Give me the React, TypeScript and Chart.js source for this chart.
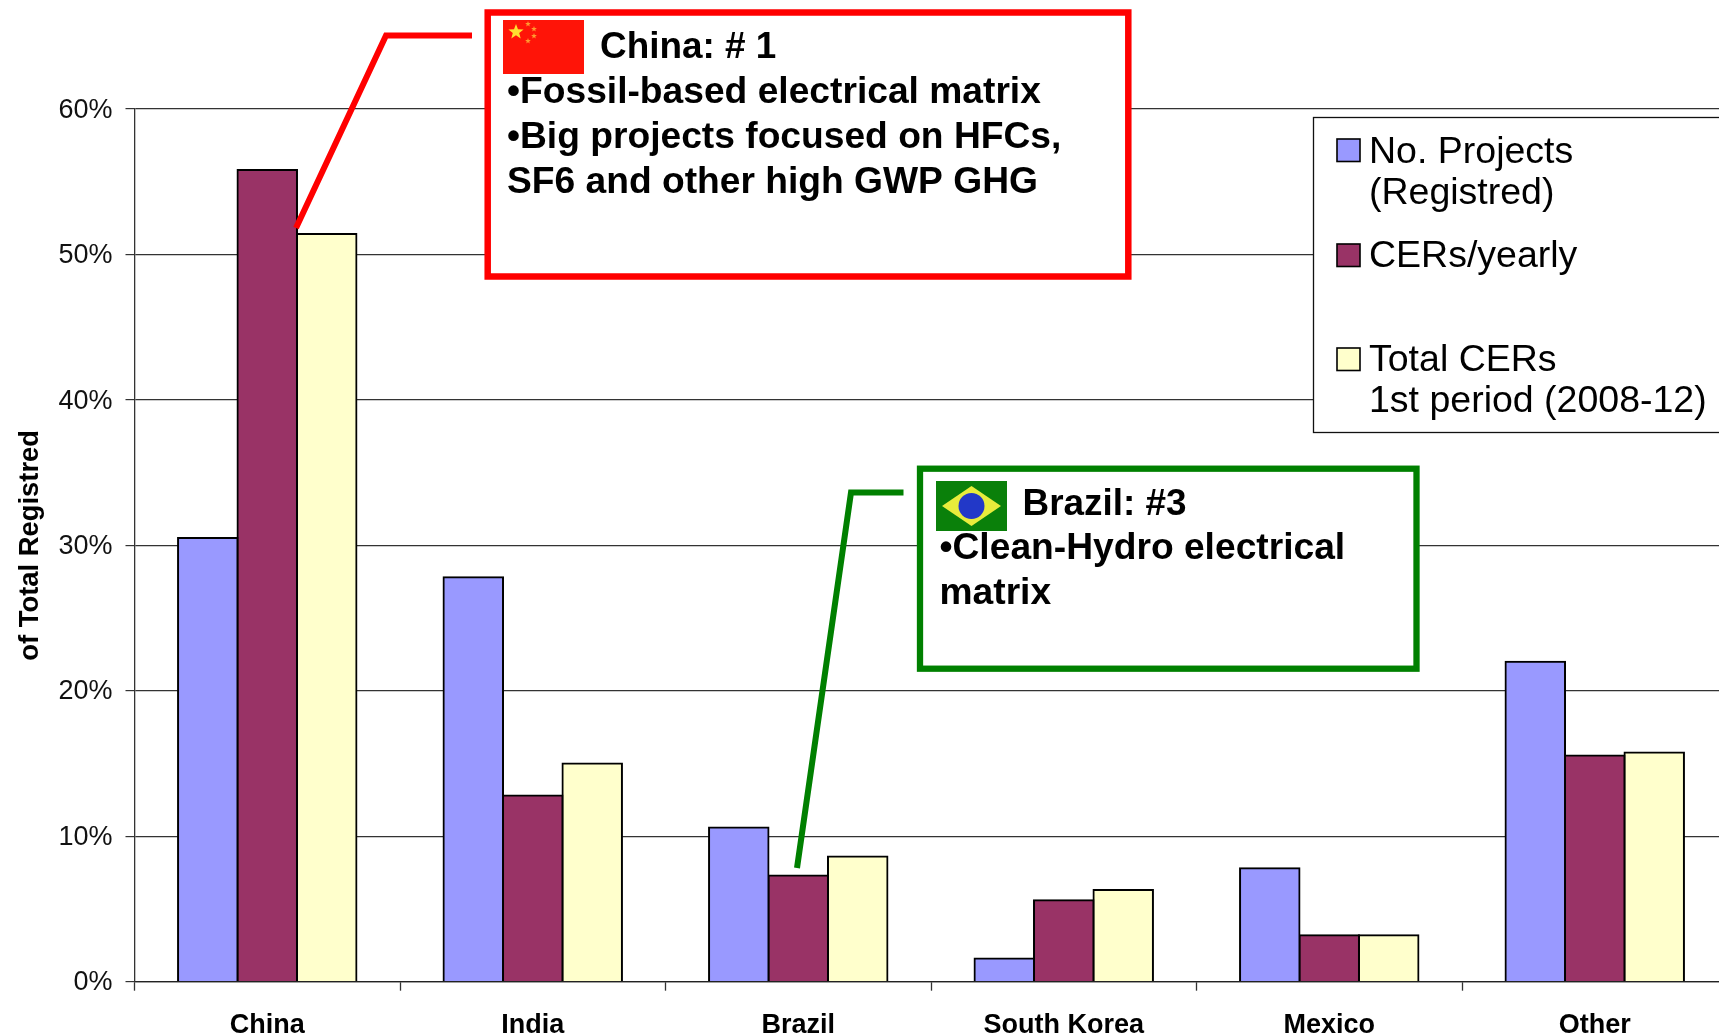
import React, { useEffect, useRef } from "react";
import { Chart, registerables } from "chart.js";

Chart.register(...registerables);

const categories = ["China", "India", "Brazil", "South Korea", "Mexico", "Other"];
const projects = [30.5, 27.8, 10.6, 1.6, 7.8, 22.0];
const cersYearly = [55.8, 12.8, 7.3, 5.6, 3.2, 15.55];
const totalCers = [51.4, 15.0, 8.6, 6.3, 3.2, 15.75];
const seriesNames = ["No. Projects|(Registred)", "CERs/yearly", "Total CERs|1st period (2008-12)"];
const seriesColors = ["#9999FF", "#993366", "#FFFFCC"];
const chinaNote = ["•Fossil-based electrical matrix", "•Big projects focused on HFCs,", "SF6 and other high GWP GHG"];
const brazilNote = ["•Clean-Hydro electrical", "matrix"];

const FONT = '"Liberation Sans", Arial, sans-serif';

function star(ctx: CanvasRenderingContext2D, cx: number, cy: number, r: number, color: string) {
  ctx.fillStyle = color;
  ctx.beginPath();
  for (let i = 0; i < 10; i++) {
    const a = -Math.PI / 2 + (i * Math.PI) / 5;
    const rr = i % 2 ? r * 0.42 : r;
    ctx.lineTo(cx + rr * Math.cos(a), cy + rr * Math.sin(a));
  }
  ctx.closePath();
  ctx.fill();
}

function polyline(ctx: CanvasRenderingContext2D, pts: number[][], color: string, w: number) {
  ctx.strokeStyle = color;
  ctx.lineWidth = w;
  ctx.lineJoin = "miter";
  ctx.beginPath();
  pts.forEach((p, i) => (i ? ctx.lineTo(p[0], p[1]) : ctx.moveTo(p[0], p[1])));
  ctx.stroke();
}

function box(ctx: CanvasRenderingContext2D, x: number, y: number, w: number, h: number, color: string, lw: number) {
  ctx.fillStyle = "#fff";
  ctx.fillRect(x, y, w, h);
  ctx.strokeStyle = color;
  ctx.lineWidth = lw;
  ctx.strokeRect(x, y, w, h);
}

const overlays = {
  id: "overlays",
  afterDraw(chart: Chart) {
    const ctx = chart.ctx;
    ctx.save();
    ctx.textBaseline = "alphabetic";
    ctx.textAlign = "left";

    // China callout
    polyline(ctx, [[472, 35.5], [386, 35.5], [296, 228]], "#FF0000", 6);
    box(ctx, 487.7, 12.5, 640.6, 264, "#FF0000", 6.5);
    ctx.fillStyle = "#FF1408";
    ctx.fillRect(503, 20, 81, 54);
    star(ctx, 516, 32, 8, "#FFE030");
    [[528, 24], [534, 29], [534, 36], [528, 41]].forEach(([x, y]) => star(ctx, x, y, 3, "#FF9A30"));
    ctx.fillStyle = "#000";
    ctx.font = `bold 36.9px ${FONT}`;
    ctx.fillText("China: # 1", 600, 57.5);
    ctx.font = `bold 37.2px ${FONT}`;
    chinaNote.forEach((t, i) => ctx.fillText(t, 507, 102.5 + i * 45));

    // Brazil callout
    polyline(ctx, [[903.5, 492.5], [851, 492.5], [797, 868]], "#008000", 6);
    box(ctx, 920, 468.7, 496.5, 200, "#008000", 6.3);
    ctx.fillStyle = "#0A800A";
    ctx.fillRect(936, 481, 71, 50);
    ctx.fillStyle = "#E8EC3C";
    ctx.beginPath();
    ctx.moveTo(942, 506);
    ctx.lineTo(971.5, 486);
    ctx.lineTo(1001, 506);
    ctx.lineTo(971.5, 526);
    ctx.closePath();
    ctx.fill();
    ctx.fillStyle = "#2238C8";
    ctx.beginPath();
    ctx.arc(971.5, 506, 13, 0, Math.PI * 2);
    ctx.fill();
    ctx.fillStyle = "#000";
    ctx.font = `bold 36.9px ${FONT}`;
    ctx.fillText("Brazil: #3", 1022.5, 514.5);
    ctx.font = `bold 37.2px ${FONT}`;
    brazilNote.forEach((t, i) => ctx.fillText(t, 939.5, 558.5 + i * 45));

    // Legend
    ctx.fillStyle = "#fff";
    ctx.fillRect(1313.5, 117.5, 500, 315);
    ctx.strokeStyle = "#111";
    ctx.lineWidth = 1.3;
    ctx.strokeRect(1313.5, 117.5, 500, 315);
    const swatchTop = [139, 244, 348];
    const baselines = [162.5, 266.8, 370.8];
    ctx.font = `37.5px ${FONT}`;
    seriesNames.forEach((name, i) => {
      ctx.fillStyle = seriesColors[i];
      ctx.fillRect(1337, swatchTop[i], 23, 22.5);
      ctx.strokeStyle = "#000";
      ctx.lineWidth = 1.6;
      ctx.strokeRect(1337, swatchTop[i], 23, 22.5);
      ctx.fillStyle = "#000";
      name.split("|").forEach((line, j) => ctx.fillText(line, 1369, baselines[i] + j * 41));
    });
    ctx.restore();
  },
};

export default function App() {
  const ref = useRef<HTMLCanvasElement>(null);
  useEffect(() => {
    const chart = new Chart(ref.current!, {
      type: "bar",
      data: {
        labels: categories,
        datasets: [projects, cersYearly, totalCers].map((data, i) => ({
          label: seriesNames[i].replace("|", " "),
          data,
          backgroundColor: seriesColors[i],
          borderColor: "#000",
          borderWidth: 2,
          borderSkipped: "bottom",
          inflateAmount: 1,
          barPercentage: 1,
          categoryPercentage: 0.672,
        })),
      },
      options: {
        responsive: false,
        animation: false,
        devicePixelRatio: 1,
        layout: { padding: { top: 109, right: 12.5, left: 0, bottom: 0 } },
        plugins: { legend: { display: false }, tooltip: { enabled: false } },
        scales: {
          x: {
            afterFit: (s: any) => { s.height = 53.3; },
            border: { color: "#222", width: 1.3 },
            grid: { drawOnChartArea: false, drawTicks: true, tickLength: 9, tickColor: "#333", tickWidth: 1.3 },
            ticks: {
              color: "#000",
              font: { family: FONT, size: 27, weight: "bold" },
              padding: 18.5,
              maxRotation: 0,
              autoSkip: false,
            },
          },
          y: {
            min: 0,
            max: 60,
            afterFit: (s: any) => { s.width = 134.5; },
            border: { color: "#333", width: 1.3 },
            grid: { color: "#333", lineWidth: 1.2, tickLength: 9, tickColor: "#333" },
            ticks: {
              stepSize: 10,
              color: "#111",
              padding: 13,
              font: { family: FONT, size: 27, lineHeight: "2.4px" },
              callback: (v: any) => ["", `${v}%`],
            },
            title: {
              display: true,
              text: "of Total Registred",
              color: "#000",
              font: { family: FONT, size: 27.4, weight: "bold" },
              padding: { top: 14, bottom: 0 },
            },
          },
        },
      },
      plugins: [overlays],
    } as any);
    return () => chart.destroy();
  }, []);
  return (
    <div style={{ position: "fixed", left: 0, top: 0, width: 1719, height: 1035, overflow: "hidden", background: "#fff" }}>
      <canvas ref={ref} width={1740} height={1035} style={{ display: "block" }} />
    </div>
  );
}
